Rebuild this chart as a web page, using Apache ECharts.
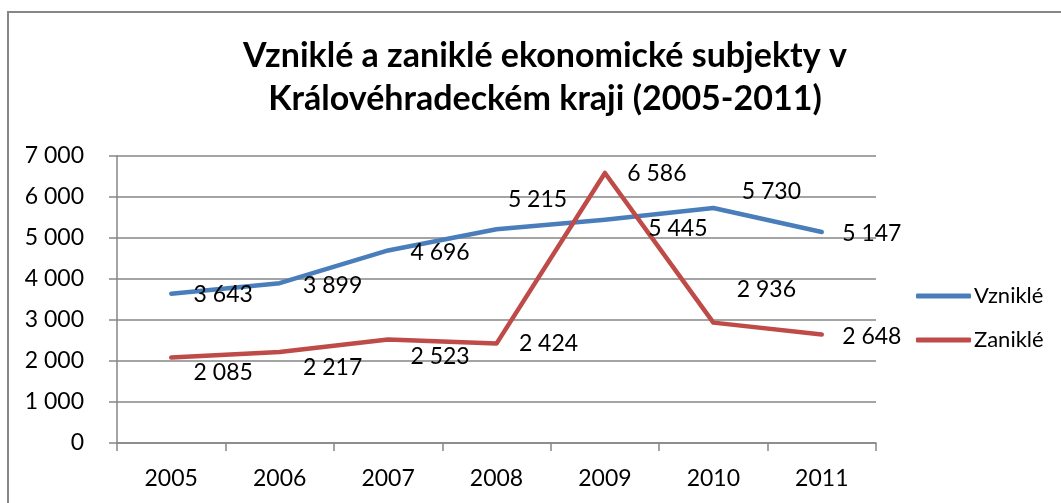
<!DOCTYPE html>
<html>
<head>
<meta charset="utf-8">
<script src="https://cdn.jsdelivr.net/npm/echarts@6/dist/echarts.min.js"></script>
<style>
  html, body { margin: 0; padding: 0; background: #fff; }
  #chart { width: 1061px; height: 503px; }
</style>
</head>
<body>
<div id="chart"></div>
<script>
// data
const years = ["2005", "2006", "2007", "2008", "2009", "2010", "2011"];
const vznikle = [3643, 3899, 4696, 5215, 5445, 5730, 5147];
const zanikle = [2085, 2217, 2523, 2424, 6586, 2936, 2648];
const yTicks = [0, 1000, 2000, 3000, 4000, 5000, 6000, 7000];

// label offsets (like Excel's hand-placed labels)
const vznikleOffsets = [[52, 1], [53, 2], [52, 2], [41, -30], [73, 9], [58, -16], [50, 2]];
const zanikleOffsets = [[52, 15], [53, 15], [52, 17], [52, 0], [52, 1], [53, -33], [50, 2]];

const FONT = "Lato, 'Open Sans', sans-serif";
const fmt = v => String(v).replace(/\B(?=(\d{3})+(?!\d))/g, " ");

const withLabels = (values, offsets) => values.map((v, i) => ({
  value: v,
  label: { offset: offsets[i] }
}));

const makeSeries = (name, values, offsets, color) => ({
  name: name,
  type: "line",
  data: withLabels(values, offsets),
  symbol: "circle",
  symbolSize: 1,
  showSymbol: true,
  itemStyle: { color: color },
  lineStyle: { color: color, width: 4.5, cap: "round", join: "round" },
  label: {
    show: true,
    position: "inside",
    color: "#000",
    fontFamily: FONT,
    fontSize: 23,
    formatter: p => fmt(p.value)
  },
  emphasis: { disabled: true }
});

const chart = echarts.init(document.getElementById("chart"));
chart.setOption({
  animation: false,
  backgroundColor: "#fff",
  title: {
    text: "Vzniklé a zaniklé ekonomické subjekty v\nKrálovéhradeckém kraji (2005-2011)",
    left: 540,
    top: 30,
    textAlign: "center",
    textStyle: {
      fontFamily: FONT,
      fontWeight: "bold",
      fontSize: 34,
      lineHeight: 43,
      color: "#000"
    }
  },
  legend: {
    orient: "vertical",
    left: 911,
    top: 280,
    itemWidth: 55,
    itemHeight: 5,
    itemGap: 22,
    icon: "roundRect",
    textStyle: { fontFamily: FONT, fontSize: 22, color: "#000", padding: [0, 0, 0, -2] },
    data: ["Vzniklé", "Zaniklé"]
  },
  grid: { left: 117, right: 185, top: 156, bottom: 60 },
  xAxis: {
    type: "category",
    data: years,
    boundaryGap: true,
    axisLine: { lineStyle: { color: "#868686", width: 1.5 } },
    axisTick: { show: true, length: 8, lineStyle: { color: "#868686", width: 1.5 } },
    axisLabel: { color: "#000", fontFamily: FONT, fontSize: 23, margin: 24 }
  },
  yAxis: {
    type: "value",
    min: yTicks[0],
    max: yTicks[yTicks.length - 1],
    interval: 1000,
    axisLine: { show: true, lineStyle: { color: "#868686", width: 1.5 } },
    axisTick: { show: true, length: 8, lineStyle: { color: "#868686", width: 1.5 } },
    splitLine: { lineStyle: { color: "#868686", width: 1.5 } },
    axisLabel: {
      color: "#000",
      fontFamily: FONT,
      fontSize: 23,
      margin: 33,
      formatter: v => fmt(v)
    }
  },
  series: [
    makeSeries("Vzniklé", vznikle, vznikleOffsets, "#4A7EBB"),
    makeSeries("Zaniklé", zanikle, zanikleOffsets, "#BE4B48")
  ],
  graphic: [{
    type: "rect",
    shape: { x: 8, y: 12, width: 1100, height: 600 },
    style: { fill: null, stroke: "#868686", lineWidth: 2 },
    silent: true,
    z: -1
  }]
});
</script>
</body>
</html>
